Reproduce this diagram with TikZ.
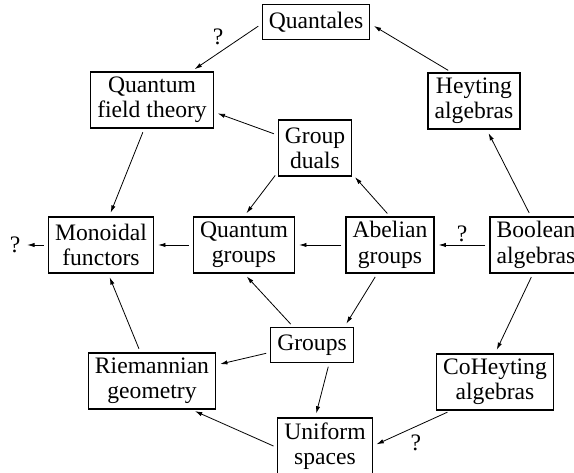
\documentclass[tikz,border=0pt]{standalone}
\usepackage{fontspec}
\setmainfont{Liberation Serif}
\usetikzlibrary{arrows.meta}

\begin{document}
\begin{tikzpicture}[x=0.75pt,y=0.75pt,
	box/.style={draw,line width=0.8pt,align=center,inner xsep=5pt,inner ysep=2pt,minimum height=42pt,font=\fontsize{17.7}{19}\selectfont},
	onebox/.style={box,minimum height=26pt},
	arr/.style={-{Latex[length=5.5pt,width=3.2pt]},line width=0.6pt,shorten <=3pt,shorten >=3pt},
	qmark/.style={font=\fontsize{17.7}{19}\selectfont,inner sep=2pt}]
	\useasboundingbox (0,0) rectangle (574,473);
	% boxes
	\node[onebox] (quant) at (316,451) {Quantales};
	\node[box] (qft) at (152,373) {Quantum\\field theory};
	\node[box] (heyt) at (474,372) {Heyting\\algebras};
	\node[box] (duals) at (315,325) {Group\\duals};
	\node[box] (monoid) at (101,228) {Monoidal\\functors};
	\node[box] (qgrp) at (244,228) {Quantum\\groups};
	\node[box] (abel) at (390,228) {Abelian\\groups};
	\node[box] (bool) at (536,228) {Boolean\\algebras};
	\node[onebox] (grp) at (312,128) {Groups};
	\node[box] (riem) at (152,92) {Riemannian\\geometry};
	\node[box] (cohey) at (495,91) {CoHeyting\\algebras};
	\node[box] (unif) at (325,27) {Uniform\\spaces};
	\node[qmark] (qm) at (15,228) {?};
	% arrows
	\draw[arr] (heyt.128) -- (quant.-2);
	\draw[arr] (quant.182) -- (qft.36) node[qmark,midway,above left] {?};
	\draw[arr] (duals.161) -- (qft.-11);
	\draw[arr] (qft.255) -- (monoid.74);
	\draw[arr] (duals.213) -- (qgrp.north);
	\draw[arr] (abel.north) -- (duals.-35);
	\draw[arr] (bool.100) -- (heyt.-66);
	\draw[arr] (bool.west) -- (abel.east) node[qmark,midway,above] {?};
	\draw[arr] (abel.west) -- (qgrp.east);
	\draw[arr] (qgrp.west) -- (monoid.east);
	\draw[arr] (monoid.west) -- (qm);
	\draw[arr] (abel.246) -- (grp.29);
	\draw[arr] (grp.136) -- (qgrp.south);
	\draw[arr] (grp.190) -- (riem.14);
	\draw[arr] (riem.112) -- (monoid.-76);
	\draw[arr] (grp.-46) -- (unif.109);
	\draw[arr] (unif.182) -- (riem.-36);
	\draw[arr] (bool.264) -- (cohey.north);
	\draw[arr] (cohey.213) -- (unif.east) node[qmark,midway,below=3pt,xshift=3pt] {?};
\end{tikzpicture}
\end{document}
